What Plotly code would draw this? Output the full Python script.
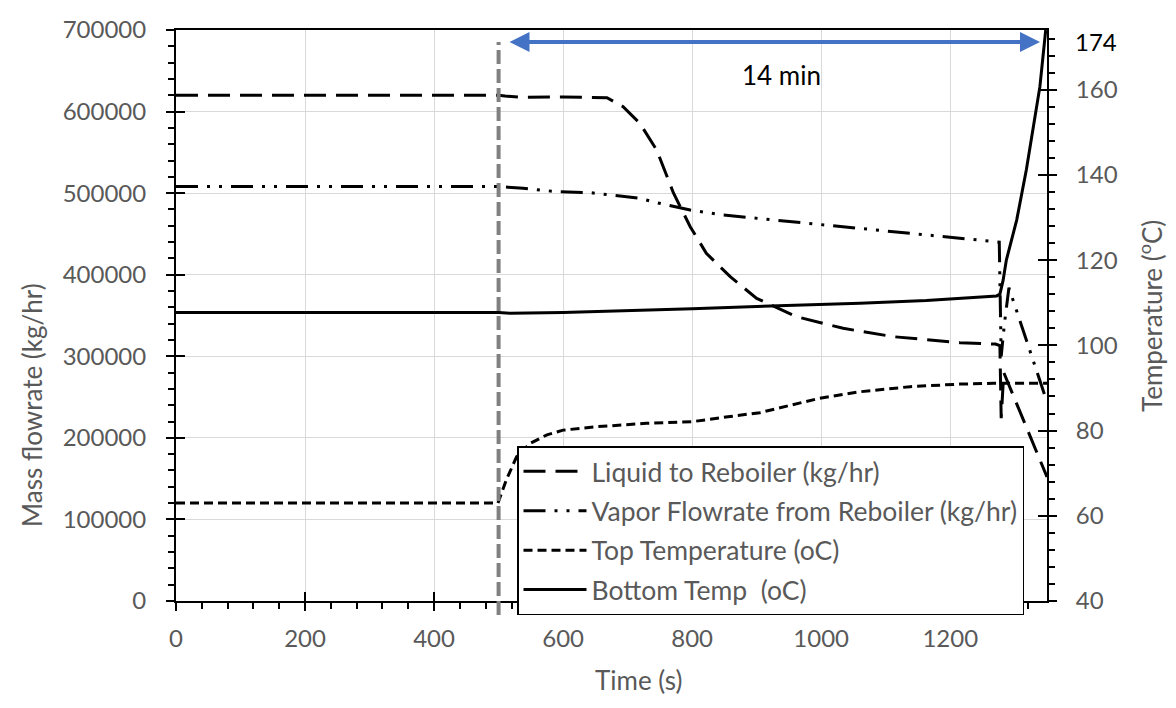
import plotly.graph_objects as go

# ---------------- data ----------------
time_liquid = [0, 500, 510, 540, 600, 668, 693, 719, 745, 771, 797, 822, 859, 900,
               962, 1034, 1112, 1215, 1270, 1277, 1279, 1283, 1350]
liquid_flow = [620000, 620000, 619000, 617500, 618000, 617000, 606000, 585600, 552900,
               500200, 458900, 426300, 397600, 371000, 348500, 334300, 324000, 316700,
               315000, 313000, 224000, 280000, 152000]

time_vapor = [0, 500, 538, 590, 642, 693, 719, 745, 771, 797, 848, 900, 983, 1060,
              1163, 1267, 1276, 1279, 1284, 1291, 1310, 1350]
vapor_flow = [508000, 508000, 506000, 501800, 500600, 496500, 493700, 488300, 484200,
              479300, 473200, 469200, 463000, 456900, 448700, 440500, 440000, 300000,
              340000, 384000, 338000, 244000]

time_top = [0, 499, 512, 528, 549, 575, 600, 652, 729, 801, 859, 905, 998, 1060,
            1138, 1215, 1267, 1350]
top_temp = [63.0, 63.0, 68.4, 73.9, 77.0, 79.0, 80.1, 80.9, 81.7, 82.1, 83.3, 84.2,
            87.6, 89.1, 90.3, 90.9, 91.1, 91.1]

time_bottom = [0, 500, 518, 600, 800, 950, 1060, 1163, 1272, 1277, 1282, 1287, 1303,
               1318, 1331, 1339, 1348]
bottom_temp = [107.7, 107.7, 107.5, 107.7, 108.6, 109.3, 109.9, 110.5, 111.6, 112.0,
               115.3, 120.0, 129.4, 141.2, 152.9, 160.7, 174.0]

x_range = [0, 1350]
left_range = [0, 700000]
right_range = [40, 174]
event_time = 500

# ---------------- layout geometry ----------------
W, H = 1176, 708
ML, MR, MT, MB = 176, 129, 30, 107
PW, PH = W - ML - MR, H - MT - MB


def px_x(px):
    return (px - ML) / PW


def px_y(py):
    return (H - MB - py) / PH


GRAY = "#595959"
GRID = "#d9d9d9"
FONT = "Lato"

fig = go.Figure()

fig.add_trace(go.Scatter(
    x=time_liquid, y=liquid_flow, name="Liquid to Reboiler (kg/hr)", mode="lines",
    line=dict(color="black", width=3, dash="22px,10px"), yaxis="y", legendgroup="a"))
fig.add_trace(go.Scatter(
    x=time_vapor, y=vapor_flow, name="Vapor Flowrate from Reboiler (kg/hr)", mode="lines",
    line=dict(color="black", width=3, dash="22px,9px,3px,9px,3px,9px"), yaxis="y",
    legendgroup="b"))
fig.add_trace(go.Scatter(
    x=time_top, y=top_temp, name="Top Temperature (oC)", mode="lines",
    line=dict(color="black", width=3, dash="9px,5px"), yaxis="y2", legendgroup="c"))
fig.add_trace(go.Scatter(
    x=time_bottom, y=bottom_temp, name="Bottom Temp  (oC)", mode="lines",
    line=dict(color="black", width=3), yaxis="y2", legendgroup="d"))

# invisible helpers so the "inside" half of crossing ticks gets drawn
fig.add_trace(go.Scatter(x=[None], y=[None], xaxis="x2", yaxis="y", showlegend=False,
                         hoverinfo="skip"))
fig.add_trace(go.Scatter(x=[None], y=[None], xaxis="x", yaxis="y3", showlegend=False,
                         hoverinfo="skip"))
fig.add_trace(go.Scatter(x=[None], y=[None], xaxis="x", yaxis="y4", showlegend=False,
                         hoverinfo="skip"))

tickfont = dict(family=FONT, size=24, color=GRAY)

fig.update_layout(
    width=W, height=H,
    margin=dict(l=ML, r=MR, t=MT, b=MB, pad=0),
    paper_bgcolor="white", plot_bgcolor="white",
    font=dict(family=FONT, color=GRAY, size=24),
    showlegend=True,
    xaxis=dict(range=x_range, tick0=0, dtick=200, showgrid=True, gridcolor=GRID,
               gridwidth=1.3, showline=True, linecolor="black", linewidth=2, mirror=True,
               ticks="outside", ticklen=8, tickwidth=2, tickcolor="black",
               minor=dict(ticks="outside", ticklen=6, tickwidth=2, tickcolor="black",
                          dtick=40, tick0=0, showgrid=False),
               zeroline=False, tickfont=tickfont, ticklabelstandoff=7),
    xaxis2=dict(range=x_range, overlaying="x", anchor="y", side="bottom", tick0=0,
                dtick=200, ticks="inside", ticklen=9, tickwidth=2, tickcolor="black",
                showticklabels=False, showgrid=False, showline=False, zeroline=False),
    yaxis=dict(range=left_range, tick0=0, dtick=100000, tickformat="d", showgrid=True,
               gridcolor=GRID, gridwidth=1.3, showline=True, linecolor="black",
               linewidth=2, ticks="outside", ticklen=8, tickwidth=2, tickcolor="black",
               minor=dict(ticks="outside", ticklen=6, tickwidth=2, tickcolor="black",
                          dtick=20000, tick0=0, showgrid=False),
               zeroline=False, tickfont=tickfont, ticklabelstandoff=15),
    yaxis2=dict(range=right_range, overlaying="y", side="right", anchor="x", tick0=40,
                dtick=20, showgrid=False, showline=True, linecolor="black", linewidth=2,
                ticks="outside", ticklen=8, tickwidth=2, tickcolor="black",
                minor=dict(ticks="outside", ticklen=6, tickwidth=2, tickcolor="black",
                           dtick=4, tick0=40, showgrid=False),
                zeroline=False, tickfont=tickfont, ticklabelstandoff=14),
    yaxis3=dict(range=left_range, overlaying="y", side="left", anchor="x", tick0=0,
                dtick=100000, ticks="inside", ticklen=9, tickwidth=2, tickcolor="black",
                showticklabels=False, showgrid=False, showline=False, zeroline=False),
    yaxis4=dict(range=right_range, overlaying="y", side="right", anchor="x", tick0=40,
                dtick=20, ticks="inside", ticklen=9, tickwidth=2, tickcolor="black",
                showticklabels=False, showgrid=False, showline=False, zeroline=False),
    legend=dict(x=px_x(517), y=px_y(446), xanchor="left", yanchor="top",
                bgcolor="white", bordercolor="black", borderwidth=1.5,
                font=dict(family=FONT, size=26.5, color=GRAY), tracegroupgap=2,
                itemwidth=63),
)

# vertical grey dashed marker at the event time
fig.add_shape(type="line", xref="x", yref="paper", x0=event_time, x1=event_time,
              y0=px_y(615), y1=px_y(42), line=dict(color="#808080", width=4,
                                                  dash="14px,5px"), layer="above")

common = dict(xref="paper", yref="paper", xanchor="center", yanchor="middle",
              showarrow=False)
annotations = [
    # double-headed blue arrow
    dict(x=px_x(1040), y=px_y(42), ax=508 - 1040, ay=0, xref="paper", yref="paper",
         axref="pixel", ayref="pixel", text="", showarrow=True, arrowhead=2,
         startarrowhead=2, arrowside="end+start", arrowsize=1, startarrowsize=1,
         arrowwidth=4, arrowcolor="#4472C4", standoff=0, startstandoff=0),
    dict(x=px_x(781), y=px_y(75), text="14 min",
         font=dict(family=FONT, size=26, color="black"), **common),
    dict(x=px_x(1096), y=px_y(41), text="174",
         font=dict(family=FONT, size=24, color="black"), **common),
    dict(x=px_x(638), y=px_y(680), text="Time (s)",
         font=dict(family=FONT, size=26, color=GRAY), **common),
    dict(x=px_x(32), y=px_y(405), text="Mass flowrate (kg/hr)", textangle=-90,
         font=dict(family=FONT, size=26, color=GRAY), **common),
    dict(x=px_x(1150), y=px_y(316), text="Temperature (<sup>o</sup>C)", textangle=-90,
         font=dict(family=FONT, size=26, color=GRAY), **common),
]
fig.update_layout(annotations=annotations)

fig.write_html("out.html")
